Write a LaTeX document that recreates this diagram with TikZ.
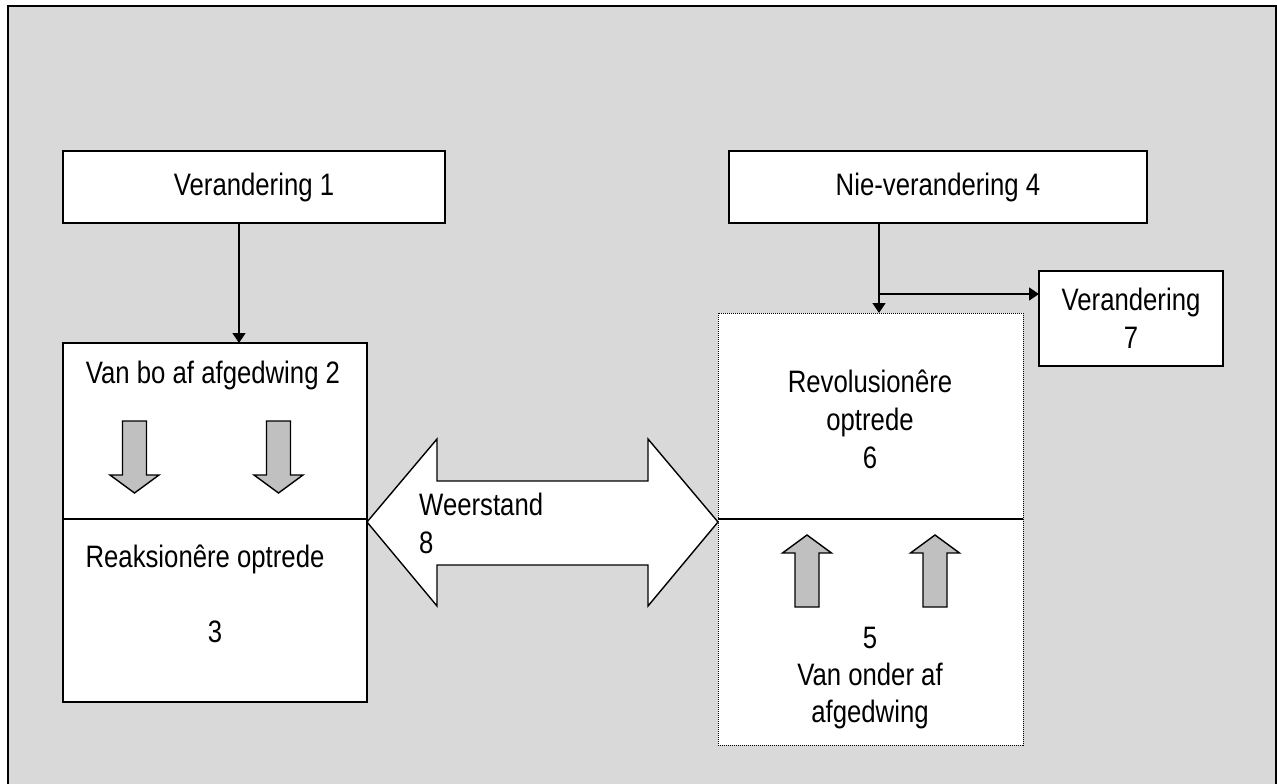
\documentclass[tikz,border=0pt]{standalone}
\usepackage{fontspec}
\setmainfont{Liberation Sans}[FakeStretch=0.83]
\usetikzlibrary{arrows.meta}
\definecolor{panel}{HTML}{D9D9D9}
\definecolor{blockgray}{HTML}{C0C0C0}
\begin{document}
\begin{tikzpicture}[x=1pt,y=-1pt,
  txt/.style={font=\fontsize{31}{37.5}\selectfont, inner sep=0pt, align=center},
  box/.style={draw, fill=white, line width=1.4pt, inner sep=0pt, outer sep=0pt, txt},
  dotbox/.style={draw, fill=white, line width=1pt, dash pattern=on 1pt off 1pt, inner sep=0pt, outer sep=0pt},
  conn/.style={line width=1.4pt, -{Triangle[length=10pt,width=13pt]}},
  rule/.style={line width=1.4pt},
  block/.style={draw, fill=blockgray, line width=1.4pt, line join=miter},
  down block/.pic={\path[block] (-12,0) -- (12,0) -- (12,54) -- (24.5,54) -- (0,72) -- (-24.5,54) -- (-12,54) -- cycle;},
  up block/.pic={\path[block] (-12,0) -- (12,0) -- (12,-54) -- (24.5,-54) -- (0,-72) -- (-24.5,-54) -- (-12,-54) -- cycle;}]

\useasboundingbox (0,0) rectangle (1277,784);
% grey panel with black frame
\path[fill=panel, draw=black, line width=2pt] (8,6) rectangle (1276,800);

% boxes
\node[box, minimum width=382pt, minimum height=72pt] (b1) at (254,187) {Verandering 1};
\node[box, minimum width=418pt, minimum height=72pt] (b4) at (938,187) {Nie-verandering 4};
\node[box, minimum width=184pt, minimum height=95pt] (b7) at (1131,318.5) {Verandering\\7};
\node[box, minimum width=304pt, minimum height=359pt] (lb) at (215,522.5) {};
\node[dotbox, minimum width=305pt, minimum height=432pt] (rb) at (870.5,529) {};

% dividing rules
\coordinate (mid) at (0,519);
\draw[rule] (lb.west |- mid) -- (lb.east |- mid);
\draw[rule] (rb.west |- mid) -- (rb.east |- mid);

% texts of the left box
\node[txt, anchor=base] (t2) at (213,383) {Van bo af afgedwing 2};
\node[txt, anchor=base] (t3a) at (205,567) {Reaksionêre optrede};
\node[txt, anchor=base] (t3b) at (215,642) {3};

% texts of the right box
\node[txt, anchor=base] (t6a) at (870,392) {Revolusionêre};
\node[txt, anchor=base] (t6b) at (870,430) {optrede};
\node[txt, anchor=base] (t6c) at (870,468) {6};
\node[txt, anchor=base] (t5a) at (870,648) {5};
\node[txt, anchor=base] (t5b) at (870,685) {Van onder af};
\node[txt, anchor=base] (t5c) at (870,722) {afgedwing};

% block arrows
\pic at (134.5,421) {down block};
\pic at (278.5,421) {down block};
\pic at (807,607) {up block};
\pic at (935,607) {up block};

% double arrow
\draw[fill=white, line width=1.4pt, line join=miter] (367,522) -- (437,439) -- (437,481) -- (648,481) -- (648,439) -- (718,522) -- (648,606) -- (648,565) -- (437,565) -- (437,606) -- cycle;
\node[txt, anchor=base west] (t8a) at (419,515) {Weerstand};
\node[txt, anchor=base west] (t8b) at (419,553) {8};

% connectors
\coordinate (a1) at (239,0);
\draw[conn] (b1.south -| a1) -- (lb.north -| a1);
\coordinate (a4) at (879,0);
\draw[conn] (b4.south -| a4) -- (rb.north -| a4);
\coordinate (fork) at (879,294);
\draw[conn] (fork) -- (b7.west |- fork);
\end{tikzpicture}
\end{document}
